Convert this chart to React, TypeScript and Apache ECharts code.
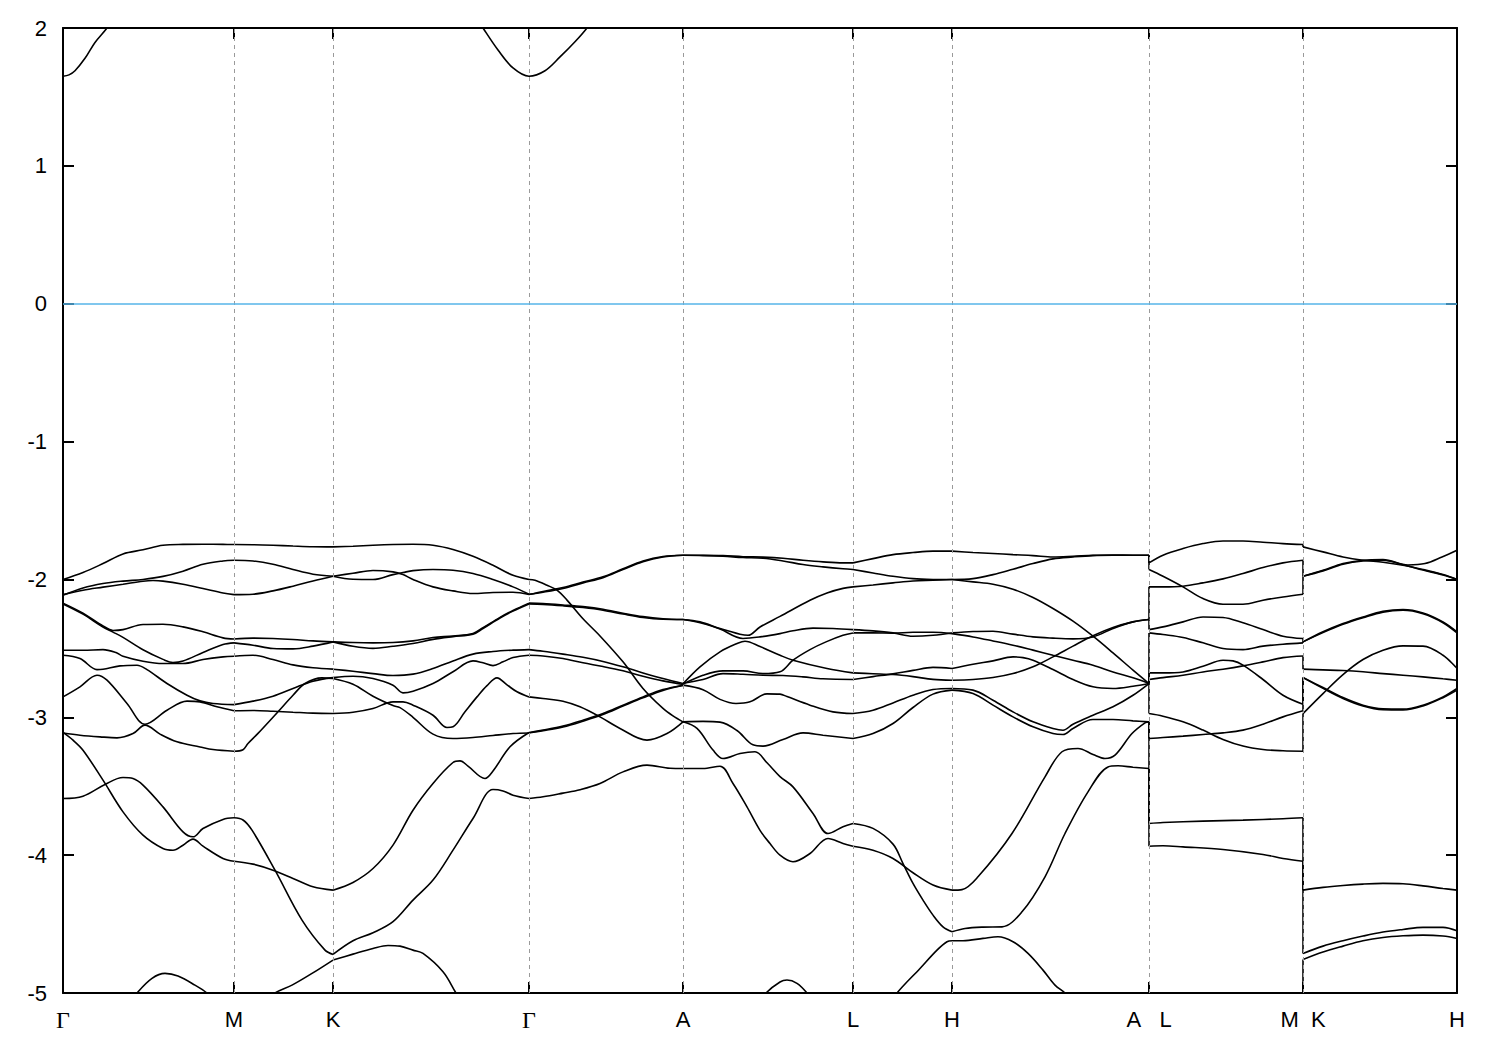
import React, { useEffect, useRef } from 'react';
import * as echarts from 'echarts';

type Pt = [number, number];

// high-symmetry points along the k-path (path distance, arb. units)
const kPoints = [0, 171, 270, 466, 620, 790, 889, 1086, 1240, 1394];
const kLabels = ['Γ', 'M', 'K', 'Γ', 'A', 'L', 'H', 'A\u00a0\u00a0\u00a0L', 'M\u00a0\u00a0K', 'H'];
const energyMin = -5;
const energyMax = 2;
const fermiLevel = 0;

// conduction band just above the window around Γ
const conductionBands: Pt[][] = [
  [[0, 1.65], [6, 1.66], [12, 1.69], [22, 1.78], [32, 1.895], [44, 2.0], [50, 2.07]],
  [[414, 2.07], [420, 2.0], [435, 1.84], [450, 1.71], [466, 1.65], [482, 1.69], [497, 1.79], [512, 1.9], [524, 2.0], [529, 2.06]],
];

// Γ – M
const bandsGammaM: Pt[][] = [
  [[0, -2.0], [20, -1.95], [40, -1.885], [60, -1.815], [80, -1.785], [100, -1.752], [120, -1.746], [140, -1.745], [160, -1.746], [171, -1.747]],
  [[0, -2.115], [20, -2.062], [40, -2.03], [60, -2.012], [80, -2.0], [100, -1.978], [120, -1.94], [140, -1.89], [160, -1.866], [171, -1.861]],
  [[0, -2.11], [20, -2.078], [40, -2.056], [60, -2.035], [80, -2.013], [90, -2.008], [100, -2.012], [120, -2.035], [140, -2.066], [160, -2.098], [171, -2.11]],
  [[0, -2.172], [20, -2.245], [40, -2.337], [50, -2.37], [60, -2.364], [80, -2.327], [100, -2.325], [120, -2.344], [140, -2.38], [160, -2.424], [171, -2.432]],
  [[0, -2.178], [20, -2.252], [40, -2.345], [50, -2.382], [60, -2.42], [80, -2.51], [100, -2.58], [110, -2.603], [120, -2.592], [140, -2.53], [160, -2.472], [171, -2.46]],
  [[0, -2.514], [20, -2.514], [40, -2.509], [53, -2.53], [60, -2.557], [80, -2.593], [100, -2.61], [120, -2.61], [140, -2.581], [160, -2.562], [171, -2.557]],
  [[0, -2.55], [17, -2.574], [34, -2.654], [40, -2.651], [57, -2.627], [74, -2.622], [84, -2.654], [104, -2.755], [124, -2.84], [137, -2.881], [150, -2.9], [171, -2.908]],
  [[0, -2.852], [17, -2.779], [34, -2.695], [44, -2.731], [64, -2.9], [82, -3.05], [104, -2.949], [124, -2.883], [137, -2.888], [154, -2.924], [171, -2.953]],
  [[0, -3.114], [17, -3.13], [37, -3.142], [54, -3.149], [70, -3.118], [82, -3.057], [97, -3.122], [114, -3.178], [137, -3.215], [150, -3.234], [171, -3.246]],
  [[0, -3.11], [10, -3.166], [20, -3.239], [40, -3.456], [60, -3.686], [80, -3.855], [100, -3.952], [110, -3.964], [120, -3.928], [130, -3.884], [140, -3.935], [160, -4.024], [171, -4.044]],
  [[0, -3.589], [20, -3.572], [42, -3.487], [60, -3.437], [70, -3.444], [80, -3.492], [100, -3.65], [120, -3.831], [130, -3.867], [140, -3.807], [160, -3.741], [171, -3.729]],
  [[66, -5.08], [74, -5.0], [89, -4.894], [102, -4.858], [115, -4.877], [132, -4.943], [144, -5.0], [150, -5.05]],
];

// M – K
const bandsMK: Pt[][] = [
  [[171, -1.747], [190, -1.748], [210, -1.752], [230, -1.758], [250, -1.763], [270, -1.764]],
  [[171, -1.861], [190, -1.866], [210, -1.89], [230, -1.928], [250, -1.962], [270, -1.977]],
  [[171, -2.11], [190, -2.107], [210, -2.083], [230, -2.049], [250, -2.011], [270, -1.977]],
  [[171, -2.432], [190, -2.426], [210, -2.429], [230, -2.436], [250, -2.446], [270, -2.453]],
  [[171, -2.46], [190, -2.477], [210, -2.501], [230, -2.504], [250, -2.484], [270, -2.453]],
  [[171, -2.557], [190, -2.55], [210, -2.581], [230, -2.62], [250, -2.641], [270, -2.651]],
  [[171, -2.908], [190, -2.883], [210, -2.847], [230, -2.791], [250, -2.738], [270, -2.712]],
  [[171, -2.953], [190, -2.951], [210, -2.956], [230, -2.963], [250, -2.97], [270, -2.973]],
  [[171, -3.246], [180, -3.235], [185, -3.19], [195, -3.117], [215, -2.96], [230, -2.84], [242, -2.755], [259, -2.714], [270, -2.718]],
  [[171, -4.044], [190, -4.065], [210, -4.109], [230, -4.169], [250, -4.23], [270, -4.254]],
  [[171, -3.729], [180, -3.745], [189, -3.819], [212, -4.109], [239, -4.471], [262, -4.689], [270, -4.72]],
  [[205, -5.05], [212, -5.0], [229, -4.943], [249, -4.858], [270, -4.761]],
];

// K – Γ
const bandsKGamma: Pt[][] = [
  [[270, -1.764], [290, -1.759], [310, -1.752], [330, -1.747], [350, -1.745], [370, -1.752], [390, -1.783], [410, -1.832], [430, -1.897], [450, -1.97], [466, -2.0]],
  [[270, -1.977], [290, -1.999], [310, -2.001], [330, -1.965], [340, -1.95], [350, -1.936], [370, -1.928], [390, -1.933], [410, -1.957], [430, -2.001], [450, -2.054], [466, -2.107]],
  [[270, -1.977], [290, -1.955], [310, -1.935], [330, -1.945], [340, -1.965], [350, -2.0], [370, -2.054], [390, -2.083], [410, -2.102], [430, -2.095], [450, -2.093], [466, -2.11]],
  [[270, -2.453], [290, -2.458], [310, -2.46], [330, -2.458], [350, -2.446], [370, -2.421], [390, -2.41], [410, -2.392], [420, -2.35], [437, -2.275], [450, -2.225], [466, -2.172]],
  [[270, -2.453], [290, -2.485], [310, -2.5], [330, -2.485], [350, -2.465], [370, -2.435], [390, -2.415], [410, -2.398], [420, -2.356], [437, -2.28], [450, -2.23], [466, -2.178]],
  [[270, -2.651], [290, -2.666], [310, -2.683], [330, -2.697], [350, -2.687], [370, -2.646], [390, -2.591], [410, -2.542], [430, -2.523], [450, -2.513], [466, -2.509]],
  [[270, -2.712], [290, -2.702], [310, -2.719], [330, -2.767], [340, -2.823], [350, -2.811], [370, -2.755], [390, -2.67], [410, -2.591], [420, -2.605], [430, -2.625], [440, -2.598], [450, -2.567], [466, -2.55]],
  [[270, -2.973], [290, -2.963], [310, -2.936], [330, -2.888], [340, -2.888], [350, -2.912], [370, -2.985], [384, -3.074], [390, -3.069], [402, -2.96], [414, -2.852], [424, -2.77], [434, -2.714], [444, -2.765], [454, -2.815], [466, -2.852]],
  [[270, -2.718], [290, -2.76], [310, -2.847], [330, -2.915], [337, -2.93], [350, -3.0], [370, -3.122], [390, -3.154], [410, -3.147], [430, -3.132], [450, -3.118], [466, -3.114]],
  [[270, -4.254], [290, -4.198], [310, -4.097], [330, -3.927], [350, -3.674], [370, -3.48], [390, -3.328], [397, -3.316], [405, -3.354], [422, -3.444], [430, -3.39], [447, -3.214], [466, -3.11]],
  [[270, -4.72], [290, -4.621], [310, -4.563], [330, -4.483], [350, -4.326], [370, -4.181], [390, -3.964], [410, -3.734], [430, -3.524], [440, -3.534], [450, -3.565], [466, -3.589]],
  [[270, -4.761], [290, -4.718], [310, -4.677], [325, -4.655], [337, -4.66], [350, -4.689], [360, -4.713], [380, -4.846], [393, -5.0], [400, -5.08]],
];

// Γ – A
const bandsGammaA: Pt[][] = [
  [[466, -2.0], [472, -2.006], [484, -2.042], [494, -2.078], [504, -2.15], [520, -2.285], [537, -2.41], [560, -2.598], [580, -2.791], [600, -2.936], [610, -2.99], [620, -3.033]],
  [[466, -2.107], [480, -2.093], [500, -2.066], [520, -2.025], [540, -1.987], [560, -1.928], [580, -1.871], [600, -1.837], [620, -1.825]],
  [[466, -2.11], [480, -2.087], [500, -2.059], [520, -2.019], [540, -1.981], [560, -1.923], [580, -1.867], [600, -1.834], [620, -1.825]],
  [[466, -2.172], [480, -2.175], [500, -2.185], [520, -2.197], [540, -2.216], [560, -2.245], [580, -2.27], [600, -2.285], [620, -2.291]],
  [[466, -2.178], [480, -2.181], [500, -2.191], [520, -2.204], [540, -2.223], [560, -2.251], [580, -2.276], [600, -2.289], [620, -2.291]],
  [[466, -2.509], [480, -2.521], [500, -2.542], [520, -2.565], [540, -2.595], [560, -2.634], [580, -2.678], [600, -2.719], [620, -2.755]],
  [[466, -2.55], [480, -2.555], [500, -2.574], [520, -2.605], [540, -2.632], [560, -2.663], [580, -2.702], [600, -2.736], [620, -2.762]],
  [[466, -2.852], [480, -2.864], [500, -2.883], [517, -2.924], [537, -2.997], [557, -3.081], [584, -3.166], [604, -3.118], [620, -3.033]],
  [[466, -3.11], [480, -3.093], [500, -3.064], [520, -3.021], [540, -2.973], [560, -2.912], [580, -2.852], [600, -2.799], [620, -2.767]],
  [[466, -3.114], [480, -3.098], [500, -3.07], [520, -3.028], [540, -2.98], [560, -2.919], [580, -2.859], [600, -2.805], [620, -2.77]],
  [[466, -3.589], [480, -3.577], [500, -3.55], [517, -3.525], [537, -3.48], [560, -3.396], [584, -3.347], [607, -3.37], [620, -3.372]],
];

// A – L
const bandsAL: Pt[][] = [
  [[620, -1.825], [640, -1.825], [660, -1.827], [680, -1.835], [700, -1.838], [720, -1.846], [740, -1.861], [760, -1.873], [780, -1.88], [790, -1.88]],
  [[620, -1.825], [640, -1.827], [660, -1.832], [680, -1.841], [700, -1.846], [720, -1.866], [740, -1.892], [760, -1.909], [780, -1.923], [790, -1.928]],
  [[620, -2.291], [637, -2.308], [657, -2.356], [677, -2.397], [685, -2.405], [697, -2.345], [717, -2.268], [747, -2.151], [764, -2.098], [780, -2.065], [790, -2.054]],
  [[620, -2.291], [640, -2.32], [657, -2.36], [680, -2.428], [697, -2.417], [717, -2.393], [730, -2.372], [750, -2.353], [770, -2.356], [790, -2.364]],
  [[620, -2.757], [637, -2.634], [657, -2.525], [674, -2.465], [682, -2.448], [697, -2.487], [717, -2.55], [730, -2.586], [764, -2.646], [790, -2.678]],
  [[620, -2.759], [640, -2.695], [660, -2.663], [680, -2.663], [700, -2.683], [717, -2.67], [730, -2.586], [747, -2.509], [763, -2.453], [780, -2.405], [790, -2.388]],
  [[620, -2.753], [640, -2.726], [660, -2.683], [680, -2.688], [700, -2.695], [720, -2.697], [740, -2.707], [760, -2.721], [790, -2.726]],
  [[620, -2.767], [640, -2.8], [657, -2.87], [673, -2.9], [687, -2.888], [704, -2.83], [717, -2.832], [724, -2.85], [747, -2.912], [770, -2.961], [790, -2.973]],
  [[620, -3.033], [640, -3.03], [657, -3.035], [674, -3.096], [690, -3.2], [700, -3.209], [720, -3.161], [740, -3.113], [760, -3.13], [790, -3.154]],
  [[620, -3.033], [634, -3.081], [650, -3.238], [660, -3.299], [677, -3.263], [692, -3.25], [704, -3.33], [717, -3.43], [730, -3.505], [750, -3.698], [765, -3.843], [780, -3.794], [790, -3.77]],
  [[620, -3.372], [640, -3.372], [657, -3.355], [670, -3.48], [684, -3.65], [697, -3.82], [707, -3.916], [717, -4.0], [730, -4.048], [747, -3.988], [765, -3.879], [780, -3.915], [790, -3.935]],
  [[698, -5.06], [703, -5.0], [717, -4.92], [724, -4.906], [734, -4.93], [744, -5.0], [748, -5.05]],
];

// L – H
const bandsLH: Pt[][] = [
  [[790, -1.88], [810, -1.849], [830, -1.82], [850, -1.805], [870, -1.795], [889, -1.795]],
  [[790, -1.928], [810, -1.953], [830, -1.977], [850, -1.994], [870, -2.0], [889, -2.001]],
  [[790, -2.054], [810, -2.04], [830, -2.025], [850, -2.011], [870, -2.006], [889, -2.001]],
  [[790, -2.364], [810, -2.373], [830, -2.388], [850, -2.412], [870, -2.405], [889, -2.388]],
  [[790, -2.388], [810, -2.388], [830, -2.39], [850, -2.383], [870, -2.383], [889, -2.393]],
  [[790, -2.678], [810, -2.684], [830, -2.69], [850, -2.705], [870, -2.725], [889, -2.731]],
  [[790, -2.726], [810, -2.705], [830, -2.685], [850, -2.66], [870, -2.638], [889, -2.646]],
  [[790, -2.973], [810, -2.949], [830, -2.896], [850, -2.84], [870, -2.799], [889, -2.791]],
  [[790, -3.154], [810, -3.118], [830, -3.045], [850, -2.929], [870, -2.832], [889, -2.803]],
  [[790, -3.77], [810, -3.806], [830, -3.92], [840, -4.061], [850, -4.205], [860, -4.326], [870, -4.435], [880, -4.52], [889, -4.556]],
  [[790, -3.935], [810, -3.964], [830, -4.024], [850, -4.128], [870, -4.217], [889, -4.254]],
  [[830, -5.06], [834, -5.0], [857, -4.822], [874, -4.689], [884, -4.628], [889, -4.621]],
];

// H – A
const bandsHA: Pt[][] = [
  [[889, -1.795], [910, -1.805], [930, -1.812], [950, -1.82], [970, -1.827], [990, -1.837], [1010, -1.832], [1030, -1.825], [1050, -1.823], [1070, -1.825], [1086, -1.825]],
  [[889, -2.001], [910, -1.994], [930, -1.965], [950, -1.926], [970, -1.885], [990, -1.851], [1010, -1.837], [1030, -1.827], [1050, -1.825], [1070, -1.825], [1086, -1.825]],
  [[889, -2.001], [910, -2.018], [930, -2.035], [950, -2.071], [970, -2.131], [990, -2.211], [1010, -2.303], [1030, -2.412], [1050, -2.533], [1070, -2.658], [1086, -2.755]],
  [[889, -2.388], [910, -2.378], [930, -2.376], [950, -2.397], [970, -2.417], [990, -2.426], [1010, -2.431], [1030, -2.417], [1050, -2.356], [1070, -2.308], [1086, -2.291]],
  [[889, -2.393], [910, -2.417], [930, -2.446], [950, -2.477], [970, -2.513], [990, -2.55], [1010, -2.586], [1030, -2.622], [1050, -2.671], [1070, -2.714], [1086, -2.755]],
  [[889, -2.646], [910, -2.615], [930, -2.591], [950, -2.562], [960, -2.567], [970, -2.586], [990, -2.653], [1010, -2.726], [1030, -2.779], [1050, -2.791], [1070, -2.775], [1086, -2.755]],
  [[889, -2.731], [910, -2.726], [930, -2.712], [950, -2.683], [970, -2.634], [990, -2.562], [1010, -2.484], [1030, -2.409], [1050, -2.349], [1070, -2.308], [1086, -2.291]],
  [[889, -2.791], [910, -2.803], [930, -2.876], [950, -2.961], [970, -3.033], [990, -3.081], [1000, -3.094], [1010, -3.05], [1030, -2.985], [1050, -2.924], [1070, -2.84], [1086, -2.755]],
  [[889, -2.803], [910, -2.828], [930, -2.912], [950, -2.997], [970, -3.069], [990, -3.118], [1000, -3.125], [1010, -3.081], [1030, -3.016], [1050, -3.016], [1070, -3.026], [1086, -3.033]],
  [[889, -4.254], [899, -4.25], [915, -4.157], [949, -3.843], [982, -3.432], [999, -3.25], [1015, -3.226], [1030, -3.27], [1042, -3.299], [1052, -3.275], [1069, -3.118], [1082, -3.04], [1086, -3.033]],
  [[889, -4.556], [902, -4.532], [920, -4.522], [939, -4.52], [959, -4.411], [982, -4.157], [1002, -3.843], [1025, -3.541], [1045, -3.36], [1055, -3.352], [1070, -3.362], [1086, -3.372]],
  [[889, -4.621], [900, -4.621], [920, -4.604], [935, -4.592], [950, -4.628], [965, -4.713], [980, -4.834], [992, -4.943], [1002, -5.0], [1008, -5.05]],
];

// L – M
const bandsLM: Pt[][] = [
  [[1086, -1.88], [1100, -1.824], [1120, -1.776], [1140, -1.74], [1160, -1.721], [1180, -1.721], [1200, -1.73], [1220, -1.74], [1240, -1.747]],
  [[1086, -1.928], [1100, -1.977], [1120, -2.054], [1140, -2.139], [1160, -2.18], [1180, -2.18], [1200, -2.151], [1220, -2.127], [1240, -2.107]],
  [[1086, -2.054], [1100, -2.054], [1120, -2.049], [1140, -2.025], [1160, -1.996], [1180, -1.957], [1200, -1.914], [1220, -1.88], [1240, -1.861]],
  [[1086, -2.364], [1100, -2.344], [1120, -2.308], [1140, -2.272], [1160, -2.276], [1180, -2.315], [1200, -2.364], [1220, -2.412], [1240, -2.429]],
  [[1086, -2.388], [1100, -2.4], [1120, -2.421], [1140, -2.46], [1160, -2.501], [1180, -2.509], [1200, -2.484], [1220, -2.47], [1240, -2.46]],
  [[1086, -2.678], [1100, -2.678], [1120, -2.671], [1140, -2.63], [1160, -2.586], [1170, -2.591], [1180, -2.622], [1200, -2.726], [1220, -2.84], [1240, -2.905]],
  [[1086, -2.726], [1100, -2.712], [1120, -2.695], [1140, -2.671], [1160, -2.651], [1180, -2.627], [1200, -2.598], [1220, -2.567], [1240, -2.555]],
  [[1086, -2.973], [1100, -2.992], [1120, -3.033], [1140, -3.093], [1160, -3.161], [1180, -3.209], [1200, -3.234], [1220, -3.243], [1240, -3.246]],
  [[1086, -3.154], [1100, -3.147], [1120, -3.137], [1140, -3.125], [1160, -3.113], [1180, -3.093], [1200, -3.05], [1220, -2.997], [1240, -2.953]],
  [[1086, -3.77], [1100, -3.763], [1140, -3.753], [1180, -3.746], [1220, -3.736], [1240, -3.729]],
  [[1086, -3.935], [1100, -3.932], [1120, -3.94], [1160, -3.959], [1200, -3.995], [1220, -4.024], [1240, -4.044]],
];

// K – H
const bandsKH: Pt[][] = [
  [[1240, -1.764], [1260, -1.8], [1280, -1.837], [1300, -1.861], [1320, -1.875], [1340, -1.897], [1360, -1.928], [1380, -1.965], [1394, -2.001]],
  [[1240, -1.977], [1260, -1.934], [1280, -1.885], [1300, -1.861], [1320, -1.856], [1345, -1.895], [1362, -1.885], [1379, -1.837], [1394, -1.788]],
  [[1240, -1.977], [1260, -1.938], [1280, -1.89], [1300, -1.866], [1320, -1.861], [1340, -1.893], [1360, -1.932], [1380, -1.968], [1394, -2.0]],
  [[1240, -2.453], [1260, -2.38], [1280, -2.32], [1300, -2.272], [1320, -2.231], [1340, -2.218], [1360, -2.243], [1380, -2.308], [1394, -2.38]],
  [[1240, -2.453], [1260, -2.386], [1280, -2.326], [1300, -2.278], [1320, -2.237], [1340, -2.224], [1360, -2.249], [1380, -2.314], [1394, -2.388]],
  [[1240, -2.651], [1260, -2.656], [1280, -2.661], [1300, -2.67], [1320, -2.683], [1340, -2.695], [1360, -2.707], [1380, -2.721], [1394, -2.731]],
  [[1240, -2.973], [1260, -2.828], [1280, -2.69], [1300, -2.581], [1320, -2.513], [1340, -2.482], [1360, -2.484], [1380, -2.55], [1394, -2.646]],
  [[1240, -2.712], [1260, -2.784], [1280, -2.857], [1300, -2.912], [1320, -2.939], [1340, -2.941], [1360, -2.912], [1380, -2.852], [1394, -2.791]],
  [[1240, -2.712], [1260, -2.79], [1280, -2.863], [1300, -2.918], [1320, -2.945], [1340, -2.947], [1360, -2.918], [1380, -2.858], [1394, -2.803]],
  [[1240, -4.254], [1260, -4.234], [1280, -4.22], [1300, -4.21], [1320, -4.205], [1340, -4.208], [1360, -4.223], [1380, -4.242], [1394, -4.254]],
  [[1240, -4.713], [1260, -4.66], [1280, -4.621], [1300, -4.587], [1320, -4.558], [1340, -4.539], [1360, -4.524], [1380, -4.524], [1394, -4.549]],
  [[1240, -4.757], [1260, -4.703], [1280, -4.66], [1300, -4.621], [1320, -4.597], [1340, -4.585], [1360, -4.58], [1380, -4.587], [1394, -4.604]],
];

// band energies at the path discontinuities (band i joins band i)
const energiesAtA = [-1.825, -1.825, -2.291, -2.291, -2.755, -2.755, -2.755, -2.755, -3.033, -3.033, -3.372];
const energiesAtL = [-1.88, -1.928, -2.054, -2.364, -2.388, -2.678, -2.726, -2.973, -3.154, -3.77, -3.935];
const energiesAtM = [-1.747, -1.861, -2.107, -2.429, -2.46, -2.555, -2.905, -2.953, -3.246, -3.729, -4.044, -5.3];
const energiesAtK = [-1.764, -1.977, -1.977, -2.453, -2.453, -2.651, -2.712, -2.712, -2.973, -4.254, -4.713, -4.757];

const FONT = '"Liberation Sans", Arial, sans-serif';

export default function App() {
  const ref = useRef<HTMLDivElement>(null);

  useEffect(() => {
    if (!ref.current) return;
    const chart = echarts.init(ref.current, undefined, { renderer: 'svg' });

    const curves: Pt[][] = [
      ...conductionBands,
      ...bandsGammaM,
      ...bandsMK,
      ...bandsKGamma,
      ...bandsGammaA,
      ...bandsAL,
      ...bandsLH,
      ...bandsHA,
      ...bandsLM,
      ...bandsKH,
    ];
    const jumpAL = energiesAtA.map((e, i) => [[kPoints[7], e], [kPoints[7], energiesAtL[i]]] as Pt[]);
    const jumpMK = energiesAtM.map((e, i) => [[kPoints[8], e], [kPoints[8], energiesAtK[i]]] as Pt[]);

    const bandLine = { color: '#000', width: 1.6 };

    const series: any[] = [];
    series.push({
      type: 'line',
      data: [],
      silent: true,
      markLine: {
        silent: true,
        symbol: 'none',
        label: { show: false },
        animation: false,
        data: [
          ...kPoints.slice(1, -1).map((k) => ({
            xAxis: k,
            lineStyle: { color: '#9a9a9a', width: 1, type: [4, 4] },
          })),
          { yAxis: fermiLevel, lineStyle: { color: '#56B4E9', width: 1.6, type: 'solid' } },
        ],
      },
    });
    curves.forEach((c) =>
      series.push({
        type: 'line',
        data: c,
        smooth: 0.35,
        symbol: 'none',
        silent: true,
        clip: true,
        lineStyle: bandLine,
      })
    );
    [...jumpAL, ...jumpMK].forEach((c) =>
      series.push({
        type: 'line',
        data: c,
        symbol: 'none',
        silent: true,
        clip: true,
        lineStyle: bandLine,
      })
    );

    const labelFor = (v: number) => {
      let best = 0;
      kPoints.forEach((k, i) => {
        if (Math.abs(k - v) < Math.abs(kPoints[best] - v)) best = i;
      });
      const s = kLabels[best];
      return s === 'Γ' ? '{g|Γ}' : s;
    };

    const frameLine = { show: true, onZero: false, lineStyle: { color: '#000', width: 2 } };
    const tickStyle = { color: '#000', width: 2 };

    chart.setOption({
      animation: false,
      backgroundColor: '#fff',
      grid: { left: 63, right: 43, top: 28, bottom: 57, containLabel: false },
      xAxis: [
        {
          type: 'value',
          min: kPoints[0],
          max: kPoints[kPoints.length - 1],
          position: 'bottom',
          axisLine: frameLine,
          axisTick: { show: true, inside: true, length: 11, lineStyle: tickStyle, customValues: kPoints },
          axisLabel: {
            show: true,
            customValues: kPoints,
            formatter: labelFor,
            color: '#000',
            fontSize: 22,
            fontFamily: FONT,
            margin: 15,
            rich: { g: { fontFamily: '"Liberation Serif", serif', fontSize: 24, color: '#000' } },
          },
          splitLine: { show: false },
        },
        {
          type: 'value',
          min: kPoints[0],
          max: kPoints[kPoints.length - 1],
          position: 'top',
          axisLine: frameLine,
          axisTick: { show: true, inside: true, length: 11, lineStyle: tickStyle, customValues: kPoints },
          axisLabel: { show: false },
          splitLine: { show: false },
        },
      ],
      yAxis: [
        {
          type: 'value',
          min: energyMin,
          max: energyMax,
          interval: 1,
          position: 'left',
          axisLine: frameLine,
          axisTick: { show: true, inside: true, length: 11, lineStyle: tickStyle },
          axisLabel: { color: '#000', fontSize: 22, fontFamily: FONT, margin: 16 },
          splitLine: { show: false },
        },
        {
          type: 'value',
          min: energyMin,
          max: energyMax,
          interval: 1,
          position: 'right',
          axisLine: frameLine,
          axisTick: { show: true, inside: true, length: 11, lineStyle: tickStyle },
          axisLabel: { show: false },
          splitLine: { show: false },
        },
      ],
      series,
    });

    return () => chart.dispose();
  }, []);

  return (
    <div
      ref={ref}
      style={{ position: 'fixed', left: 0, top: 0, width: 1500, height: 1050, background: '#fff' }}
    />
  );
}
